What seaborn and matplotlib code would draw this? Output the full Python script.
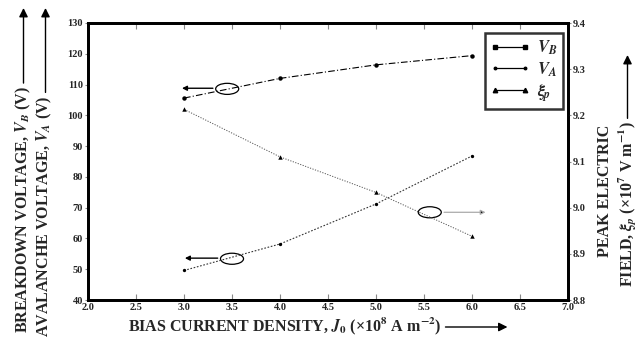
import matplotlib
matplotlib.use("Agg")
import matplotlib.pyplot as plt
import seaborn as sns
import pandas as pd
from matplotlib.lines import Line2D
from matplotlib.patches import Ellipse

sns.set_theme(style="white")
plt.rcParams['font.family'] = ['Liberation Serif', 'DejaVu Serif']
plt.rcParams['mathtext.fontset'] = 'stix'
plt.rcParams['font.weight'] = 'bold'

# Data
J0 = [3.0, 4.0, 5.0, 6.0]
V_B = [105.6, 112.0, 116.4, 119.4]
V_A = [49.6, 58.2, 71.2, 86.8]
xi_p = [9.213, 9.11, 9.033, 8.938]
x_ticks = [2.0, 2.5, 3.0, 3.5, 4.0, 4.5, 5.0, 5.5, 6.0, 6.5, 7.0]
left_ticks = [40, 50, 60, 70, 80, 90, 100, 110, 120, 130]
right_ticks = [8.8, 8.9, 9.0, 9.1, 9.2, 9.3, 9.4]

df = pd.DataFrame({"J0": J0, "VB": V_B, "VA": V_A, "xi": xi_p})

W, H = 640, 343
fig = plt.figure(figsize=(6.4, 3.43), dpi=100)
ax = fig.add_axes([88/W, 1-300/H, 480/W, 277/H])
ax2 = ax.twinx()

sns.lineplot(data=df, x="J0", y="VB", ax=ax, color="black", lw=0.8,
             linestyle=(0, (6, 2, 1, 2)), marker="o", markersize=3.2,
             markeredgewidth=0, markerfacecolor="black")
sns.lineplot(data=df, x="J0", y="VA", ax=ax, color="#333333", lw=0.8,
             linestyle=(0, (1.5, 1.5)), marker="o", markersize=2.4,
             markeredgewidth=0, markerfacecolor="black")
sns.lineplot(data=df, x="J0", y="xi", ax=ax2, color="#555555", lw=0.7,
             linestyle=(0, (1.2, 1.5)), marker="^", markersize=3.2,
             markeredgewidth=0, markerfacecolor="black")

ax.set_xlim(2.0, 7.0)
ax.set_ylim(40, 130)
ax2.set_ylim(8.8, 9.4)
ax.set_xticks(x_ticks)
ax.set_xticklabels([f"{v:.1f}" for v in x_ticks])
ax.set_yticks(left_ticks)
ax2.set_yticks(right_ticks)
ax2.set_yticklabels([f"{v:.1f}" for v in right_ticks])
ax.set_xlabel("")
ax.set_ylabel("")
ax2.set_ylabel("")

for a in (ax, ax2):
    for s in a.spines.values():
        s.set_linewidth(2.0)
        s.set_color("black")
ax.tick_params(axis="x", direction="in", top=True, bottom=True, length=4,
               width=0.8, color="#888888", labelsize=7.5, pad=2)
ax.tick_params(axis="y", direction="out", left=True, length=2.5, width=0.8,
               color="#888888", labelsize=7.5, pad=1)
ax2.tick_params(axis="y", direction="out", right=True, length=2.5, width=0.8,
                color="#888888", labelsize=7.5, pad=1)
for lab in ax.get_xticklabels() + ax.get_yticklabels() + ax2.get_yticklabels():
    lab.set_fontweight("bold")

# Ellipses and arrows
ax.add_patch(Ellipse((3.45, 108.6), 0.24, 3.6, fill=False, lw=0.9, color="black"))
ax.annotate("", xy=(2.95, 108.8), xytext=(3.33, 108.8),
            arrowprops=dict(arrowstyle="-|>", color="black", lw=1.0, mutation_scale=7))
ax.add_patch(Ellipse((3.5, 53.4), 0.24, 3.6, fill=False, lw=0.9, color="black"))
ax.annotate("", xy=(2.98, 53.6), xytext=(3.38, 53.6),
            arrowprops=dict(arrowstyle="-|>", color="black", lw=1.0, mutation_scale=7))
ax.add_patch(Ellipse((5.56, 68.5), 0.24, 3.6, fill=False, lw=0.9, color="black"))
ax.annotate("", xy=(6.17, 68.5), xytext=(5.68, 68.5),
            arrowprops=dict(arrowstyle="-|>", color="#aaaaaa", lw=0.9, mutation_scale=7,
                            ec="#aaaaaa", fc="black"))

# Legend
handles = [
    Line2D([], [], color="black", lw=0.9, marker="s", markersize=3.5),
    Line2D([], [], color="black", lw=0.9, marker="o", markersize=1.8),
    Line2D([], [], color="black", lw=0.9, marker="^", markersize=3.2),
]
labels = [r"$V_B$", r"$V_A$", r"$\xi_p$"]
leg = ax2.legend(handles, labels, loc="upper right", bbox_to_anchor=(0.99, 0.965),
                 borderaxespad=0, fontsize=12, frameon=True, fancybox=False,
                 handlelength=2.4, handletextpad=0.4, borderpad=0.35,
                 labelspacing=0.2, numpoints=2)
leg.get_frame().set_edgecolor("black")
leg.get_frame().set_linewidth(1.8)

renderer = fig.canvas.get_renderer()


def fitted_text(x, y, s, target, rotation, ha, va, maxsize=20):
    t = fig.text(x / W, 1 - y / H, s, rotation=rotation, ha=ha, va=va,
                 fontsize=12, fontweight="bold")
    bb = t.get_window_extent(renderer)
    size = bb.height if rotation == 90 else bb.width
    t.set_fontsize(min(maxsize, 12 * target / size))
    return t


def arrow(x0, y0, x1, y1):
    ax.annotate("", xy=(x1, H - y1), xycoords="figure pixels",
                xytext=(x0, H - y0), textcoords="figure pixels",
                annotation_clip=False,
                arrowprops=dict(arrowstyle="-|>", color="black", lw=1.0,
                                mutation_scale=13, shrinkA=0, shrinkB=0))


# bottom
tb = fitted_text(128, 326, r"BIAS CURRENT DENSITY, $J_0$ (×10$^8$ A m$^{-2}$)",
                 330, 0, "left", "center", maxsize=11.5)
bb = tb.get_window_extent(renderer)
arrow(bb.x1 + 4, 327, bb.x1 + 66, 327)

# left
t1 = fitted_text(23, 333, r"BREAKDOWN VOLTAGE, $V_B$ (V)", 271, 90, "center", "bottom",
                 maxsize=11.5)
bb = t1.get_window_extent(renderer)
arrow(23.5, H - bb.y1 - 3, 23.5, 8)
t2 = fitted_text(44, 337, r"AVALANCHE VOLTAGE, $V_A$ (V)", 270, 90, "center", "bottom",
                 maxsize=11.5)
bb = t2.get_window_extent(renderer)
arrow(45.5, H - bb.y1 - 3, 45.5, 8)

# right
fitted_text(605, 257, "PEAK ELECTRIC", 147, 90, "center", "bottom", maxsize=11.5)
t4 = fitted_text(627, 287, r"FIELD, $\xi_p$ (×10$^7$ V m$^{-1}$)", 197, 90, "center", "bottom",
                 maxsize=11.5)
bb = t4.get_window_extent(renderer)
arrow(627.5, H - bb.y1 - 3, 627.5, 55)

fig.savefig("out.png", dpi=100)
